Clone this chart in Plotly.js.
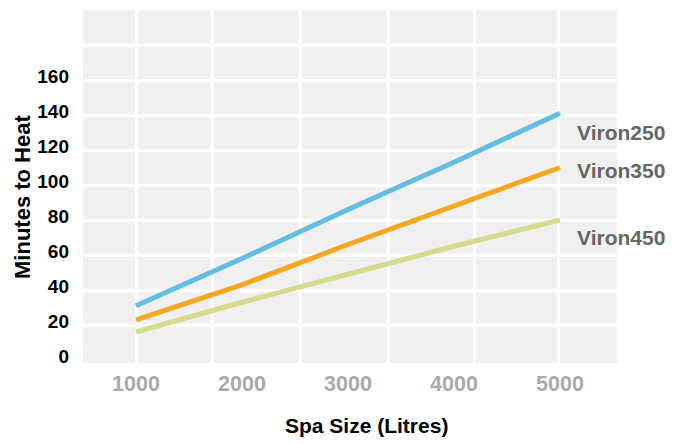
<!DOCTYPE html>
<html>
<head>
<meta charset="utf-8">
<script src="https://cdn.plot.ly/plotly-3.0.1.min.js"></script>
<style>html,body{margin:0;padding:0;background:#fff;}#chart{width:684px;height:444px;}</style>
</head>
<body>
<div id="chart"></div>
<script>
// ---- data ----
const spaSize = [1000, 2000, 3000, 4000, 5000];
const viron250 = [31, 58, 86, 113, 141];
const viron350 = [23, 43, 66, 88, 110];
const viron450 = [16, 33, 49, 65, 80];
const seriesNames = ['Viron250', 'Viron350', 'Viron450'];
const xTickLabels = ['1000', '2000', '3000', '4000', '5000'];
const yTickValues = [0, 20, 40, 60, 80, 100, 120, 140, 160];
// gridline positions in the reference (not aligned with the x labels)
const xGridValues = [1000, 1720, 2550, 3380, 4190, 4990];
const yGridValues = [20, 40, 60, 80, 100, 120, 140, 160, 180];

const colors = ['#62BCE3', '#F5A720', '#D4DB8D'];
const seriesValues = [viron250, viron350, viron450];
const labelShift = [-19, -3, -17];

const xRange = [500, 5538];
const yRange = [-1.7, 200];
const font = 'Liberation Sans, Arial, sans-serif';
const narrowFont = 'Liberation Sans Narrow, Arial Narrow, Liberation Sans, sans-serif';

const traces = seriesValues.map((vals, i) => ({
  x: spaSize, y: vals, name: seriesNames[i], type: 'scatter', mode: 'lines',
  line: {color: colors[i], width: 5}, xaxis: 'x', yaxis: 'y', hoverinfo: 'x+y+name'
}));

const seriesLabels = seriesValues.map((vals, i) => ({
  x: spaSize[spaSize.length - 1], y: vals[vals.length - 1], xref: 'x', yref: 'y',
  text: '<b>' + seriesNames[i] + '</b>', showarrow: false, xanchor: 'left', yanchor: 'middle',
  xshift: 15, yshift: labelShift[i], font: {family: font, size: 21, color: '#666666'}
}));

const layout = {
  width: 684, height: 444,
  margin: {l: 83, r: 67, t: 10, b: 81},
  paper_bgcolor: '#ffffff', plot_bgcolor: '#f0f0f0',
  showlegend: false,
  xaxis: {
    range: xRange, tickvals: xGridValues, showticklabels: false,
    showgrid: true, gridcolor: '#ffffff', gridwidth: 3, zeroline: false, showline: false, ticks: ''
  },
  xaxis2: {
    range: xRange, overlaying: 'x', anchor: 'y', side: 'bottom',
    tickvals: spaSize, ticktext: xTickLabels, showgrid: false, zeroline: false, showline: false, ticks: '',
    tickfont: {family: font, size: 21.5, color: '#aaaaaa', weight: 'bold'}, ticklabelstandoff: 5
  },
  yaxis: {
    range: yRange, tickvals: yGridValues, showticklabels: false,
    showgrid: true, gridcolor: '#ffffff', gridwidth: 3, zeroline: false, showline: false, ticks: ''
  },
  yaxis2: {
    range: yRange, overlaying: 'y', anchor: 'x', side: 'left',
    tickvals: yTickValues, ticktext: yTickValues.map(String), showgrid: false, zeroline: false, showline: false, ticks: '',
    tickfont: {family: narrowFont, size: 19, color: '#000000', weight: 'bold'}, ticklabelstandoff: 13, ticklabelshift: -4
  },
  annotations: [
    ...seriesLabels,
    {xref: 'paper', yref: 'paper', x: (366.5 - 83) / 534, y: -(425 - 363) / 353, xanchor: 'center', yanchor: 'middle',
     text: '<b>Spa Size (Litres)</b>', showarrow: false, font: {family: font, size: 21, color: '#000'}},
    {xref: 'paper', yref: 'paper', x: -(83 - 22) / 534, y: (363 - 197) / 353, xanchor: 'center', yanchor: 'middle',
     text: '<b>Minutes to Heat</b>', textangle: -90, showarrow: false, font: {family: font, size: 22, color: '#000'}}
  ]
};

// invisible point so the label axes are drawn
traces.push({x: [spaSize[0]], y: [viron250[0]], xaxis: 'x2', yaxis: 'y2', mode: 'markers',
  marker: {opacity: 0}, hoverinfo: 'skip', showlegend: false});

Plotly.newPlot('chart', traces, layout, {displayModeBar: false, staticPlot: true});
</script>
</body>
</html>
